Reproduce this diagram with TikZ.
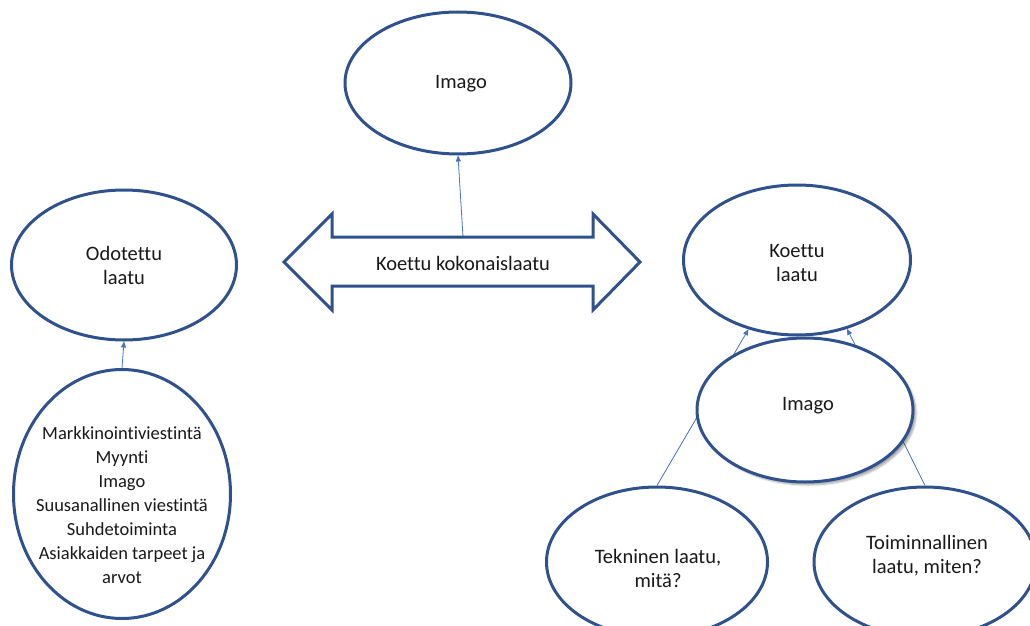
\documentclass[tikz,border=0pt]{standalone}
\usepackage{fontspec}
\setmainfont{Carlito}[Ligatures={NoCommon}]
\usetikzlibrary{shapes.geometric,arrows.meta,shadows.blur,backgrounds}
\definecolor{oline}{HTML}{2F528F}
\definecolor{connc}{HTML}{4472C4}
\begin{document}
\begin{tikzpicture}[x=1pt,y=-1pt,
  oval/.style={ellipse, draw=oline, line width=3pt, fill=white, inner sep=0pt},
  txt/.style={font=\fontsize{20.5}{24}\selectfont, align=center, inner sep=0pt, text=black!90},
  conn/.style={draw=connc, line width=0.8pt, -{Triangle[length=6pt,width=5pt]}}]
\useasboundingbox (0,0) rectangle (1030,626);
\clip (0,0) rectangle (1030,626);

% ovals
\node[oval, minimum width=226pt, minimum height=142pt] (imagoT) at (458,83) {};
\node[oval, minimum width=225pt, minimum height=150pt] (odot) at (124,265) {};
\node[oval, minimum width=227pt, minimum height=150pt] (koettu) at (797,260) {};
\node[oval, minimum width=217pt, minimum height=249pt] (lista) at (122,494) {};
\node[oval, minimum width=221pt, minimum height=150pt] (tek) at (657,562) {};
\node[oval, minimum width=222pt, minimum height=150pt] (toim) at (925,562) {};
\node[oval, blur shadow={shadow xshift=3pt, shadow yshift=-3pt, shadow blur steps=6, shadow opacity=35}, minimum width=216pt, minimum height=144pt] (imagoR) at (805,410) {};

% double arrow
\draw[draw=oline, line width=3pt, fill=white, line join=miter]
  (284,262) -- (332,214) -- (332,237) -- (593,237) -- (593,214) -- (640,262)
  -- (593,310) -- (593,286) -- (332,286) -- (332,310) -- cycle;
\coordinate (katop) at (463,237);

% texts
\node[txt] (t1) at (461,84) {Imago};
\node[txt] (t2) at (124,265) {Odotettu\\laatu};
\node[txt] (t3) at (797,263) {Koettu\\laatu};
\node[txt] (t4) at (808,406) {Imago};
\node[txt] (t5) at (463,263) {Koettu kokonaislaatu};
\node[txt, font=\fontsize{18.5}{24}\selectfont] (t6) at (122,505) {Markkinointiviestintä\\Myynti\\Imago\\Suusanallinen viestintä\\Suhdetoiminta\\Asiakkaiden tarpeet ja\\arvot};
\node[txt] (t7) at (658,568) {Tekninen laatu,\\mitä?};
\node[txt] (t8) at (927,556) {Toiminnallinen\\laatu, miten?};

% connectors
\begin{scope}[on background layer]
\draw[conn] (katop) -- (imagoT.south);
\draw[conn] (lista.north) -- (odot.south);
\draw[conn] (tek.north) -- (koettu.235);
\draw[conn] (toim.north) -- (koettu.306);
\end{scope}
\end{tikzpicture}
\end{document}
